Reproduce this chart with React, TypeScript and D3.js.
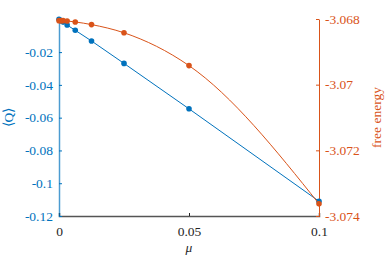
import React, { useEffect, useRef } from "react";
import * as d3 from "d3";

// chemical potential values
const mu = [0, 0.00078125, 0.0015625, 0.003125, 0.00625, 0.0125, 0.025, 0.05, 0.1];
// <Q> (left axis)
const qValues = [0, -0.0008, -0.0017, -0.0035, -0.0067, -0.0132, -0.0269, -0.0546, -0.1110];
// free energy (right axis)
const freeEnergy = [-3.06805, -3.06805, -3.06805, -3.06806, -3.06809, -3.06817, -3.06842, -3.06942, -3.07363];

const xTicks = [0, 0.05, 0.1];
const leftTicks = [-0.02, -0.04, -0.06, -0.08, -0.1, -0.12];
const rightTicks = [-3.068, -3.07, -3.072, -3.074];

const BLUE = "#0072BD";
const ORANGE = "#D95319";
const FONT = "Liberation Serif, serif";
const FS = 13.5;

const App = () => {
  const ref = useRef<SVGSVGElement>(null);
  const width = 386;
  const height = 258;
  const margin = { top: 19, right: 67, bottom: 42, left: 59 };

  useEffect(() => {
    const svg = d3.select(ref.current);
    svg.selectAll("*").remove();

    const x = d3.scaleLinear()
      .domain([0, 0.1])
      .range([margin.left, width - margin.right]);

    const yL = d3.scaleLinear()
      .domain([-0.12, 0.0002])
      .range([height - margin.bottom, margin.top]);

    const yR = d3.scaleLinear()
      .domain([-3.074, -3.068])
      .range([height - margin.bottom, margin.top]);

    // bottom axis
    const gx = svg.append("g")
      .attr("transform", `translate(0,${height - margin.bottom})`)
      .call(d3.axisBottom(x).tickValues(xTicks).tickSize(-3).tickPadding(10)
        .tickFormat(d => String(+d)));
    gx.attr("font-family", FONT).attr("font-size", FS);
    gx.select(".domain").attr("stroke", "#555").attr("stroke-width", 1.5);
    gx.selectAll(".tick line").attr("stroke", "#262626");
    gx.selectAll("text").attr("fill", "#262626");

    // left axis
    const gl = svg.append("g")
      .attr("transform", `translate(${margin.left},0)`)
      .call(d3.axisLeft(yL).tickValues(leftTicks).tickSize(-3).tickSizeOuter(0).tickPadding(6)
        .tickFormat(d => String(+d)));
    gl.attr("font-family", FONT).attr("font-size", FS);
    gl.select(".domain").attr("stroke", BLUE).attr("stroke-width", 1.5).attr("opacity", 0.7);
    gl.selectAll(".tick line").attr("stroke", BLUE);
    gl.selectAll("text").attr("fill", BLUE);

    // right axis
    const gr = svg.append("g")
      .attr("transform", `translate(${width - margin.right},0)`)
      .call(d3.axisRight(yR).tickValues(rightTicks).tickSize(-3).tickSizeOuter(0).tickPadding(6)
        .tickFormat(d => String(+d)));
    gr.attr("font-family", FONT).attr("font-size", FS);
    gr.select(".domain").attr("stroke", ORANGE).attr("stroke-width", 1);
    gr.selectAll(".tick line").attr("stroke", ORANGE);
    gr.selectAll("text").attr("fill", ORANGE);

    // blue series
    const blueLine = d3.line<number>()
      .x((_, i) => x(mu[i]))
      .y(d => yL(d));
    svg.append("path")
      .datum(qValues)
      .attr("d", blueLine)
      .attr("fill", "none")
      .attr("stroke", BLUE)
      .attr("stroke-width", 1);
    svg.append("g").selectAll("circle")
      .data(qValues)
      .join("circle")
      .attr("cx", (_, i) => x(mu[i]))
      .attr("cy", d => yL(d))
      .attr("r", 2.8)
      .attr("fill", BLUE);

    // orange series
    const orangeLine = d3.line<number>()
      .x((_, i) => x(mu[i]))
      .y(d => yR(d))
      .curve(d3.curveMonotoneX);
    svg.append("path")
      .datum(freeEnergy)
      .attr("d", orangeLine)
      .attr("fill", "none")
      .attr("stroke", ORANGE)
      .attr("stroke-width", 1);
    svg.append("g").selectAll("circle")
      .data(freeEnergy)
      .join("circle")
      .attr("cx", (_, i) => x(mu[i]))
      .attr("cy", d => yR(d))
      .attr("r", 2.8)
      .attr("fill", ORANGE);

    // axis labels
    svg.append("text")
      .attr("x", x(0.05))
      .attr("y", 252)
      .attr("text-anchor", "middle")
      .attr("font-family", FONT)
      .attr("font-style", "italic")
      .attr("font-size", FS)
      .attr("fill", "#262626")
      .text("μ");

    svg.append("text")
      .attr("transform", `translate(13,${(margin.top + height - margin.bottom) / 2}) rotate(-90)`)
      .attr("text-anchor", "middle")
      .attr("font-family", FONT)
      .attr("font-size", FS)
      .attr("fill", BLUE)
      .text("⟨Q⟩");

    svg.append("text")
      .attr("transform", `translate(381,${(margin.top + height - margin.bottom) / 2}) rotate(-90)`)
      .attr("text-anchor", "middle")
      .attr("font-family", FONT)
      .attr("font-size", FS)
      .attr("fill", ORANGE)
      .text("free energy");
  });

  return (
    <svg ref={ref} width={width} height={height} style={{ position: "absolute", left: 0, top: 0 }} />
  );
};

export default App;
